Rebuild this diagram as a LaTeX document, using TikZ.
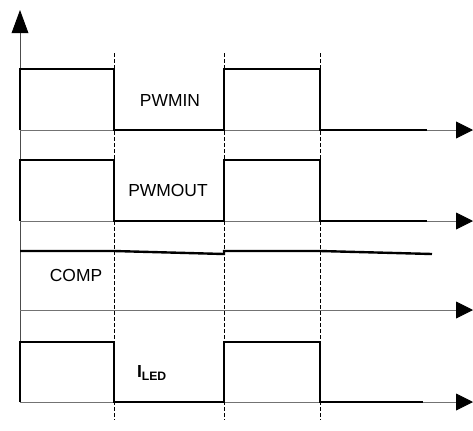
\documentclass[tikz,border=0pt]{standalone}
\usepackage{fontspec}
\setmainfont{Liberation Sans}
\usetikzlibrary{arrows.meta}

\begin{document}
\begin{tikzpicture}[x=0.025cm,y=-0.025cm,
  axis/.style={draw=black!55,line width=0.6pt,
    -{Triangle[length=0.42cm,width=0.42cm,color=black]}},
  wave/.style={line width=1.7pt},
  edgeline/.style={line width=0.7pt,dash pattern=on 0.1cm off 0.05cm},
  lbl/.style={font=\fontsize{12.4}{14}\selectfont}]
  \useasboundingbox (0,0) rectangle (473,430);
  % time axes
  \coordinate (o) at (20,402);
  \coordinate (top) at (20,10);
  \draw[axis,draw=black!70,-{Triangle[length=0.58cm,width=0.42cm,color=black]}] (o) -- (top);
  \foreach \y/\n in {130/in,221/out,310/comp,402/led}{
    \coordinate (s\n) at (20,\y);
    \coordinate (e\n) at (473,\y);
    \draw[axis] (s\n) -- (e\n);
  }
  % edges
  \foreach \x in {114,224,320}
    \draw[edgeline] (\x,53) -- (\x,420);
  % waveforms
  \draw[wave] (20,130) -- (20,69) -- (114,69) -- (114,130) -- (224,130)
    -- (224,69) -- (320,69) -- (320,130) -- (427,130);
  \draw[wave] (20,221) -- (20,160) -- (114,160) -- (114,221) -- (224,221)
    -- (224,160) -- (320,160) -- (320,221) -- (427,221);
  \draw[wave] (20,251) -- (114,251) -- (224,254) -- (224,251) -- (320,251)
    -- (432,254);
  \draw[wave] (20,402) -- (20,342) -- (114,342) -- (114,402) -- (224,402)
    -- (224,342) -- (320,342) -- (320,402) -- (423,402);
  % labels
  \node[lbl](pwmin) at (170,100){PWMIN};
  \node[lbl](pwmout) at (168,190){PWMOUT};
  \node[lbl](comp) at (76,275){COMP};
  \node[lbl](iled) at (152,373){\textbf{I}\textsubscript{\textbf{LED}}};
\end{tikzpicture}
\end{document}
